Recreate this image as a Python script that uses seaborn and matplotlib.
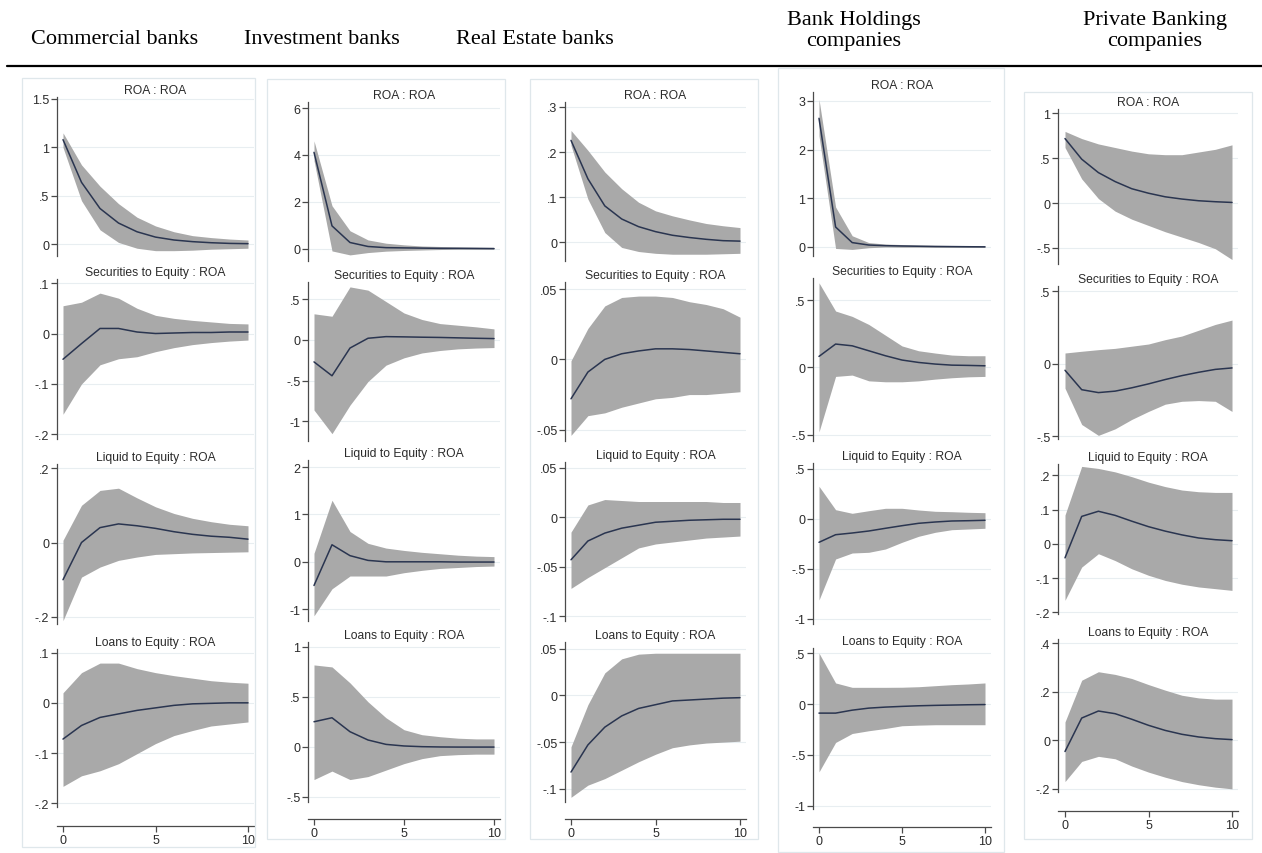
import matplotlib
matplotlib.use("Agg")
import matplotlib.pyplot as plt
from matplotlib.patches import Rectangle
from matplotlib.lines import Line2D
import seaborn as sns

sns.set_theme(style="white")
plt.rcParams["font.family"] = ["Liberation Sans", "DejaVu Sans"]
plt.rcParams["axes.unicode_minus"] = False

# ---------------------------------------------------------------- data
steps = list(range(11))

bank_types = ["Commercial banks", "Investment banks", "Real Estate banks",
              "Bank Holdings\ncompanies", "Private Banking\ncompanies"]
panel_titles = ["ROA : ROA", "Securities to Equity : ROA",
                "Liquid to Equity : ROA", "Loans to Equity : ROA"]

# Commercial banks
comm_roa_irf = [1.08, 0.64, 0.37, 0.22, 0.13, 0.075, 0.045, 0.028, 0.017, 0.01, 0.007]
comm_roa_lo = [1.0, 0.45, 0.15, 0.02, -0.04, -0.065, -0.065, -0.06, -0.05, -0.045, -0.04]
comm_roa_hi = [1.15, 0.82, 0.6, 0.42, 0.28, 0.19, 0.13, 0.09, 0.07, 0.055, 0.045]
comm_sec_irf = [-0.051, -0.02, 0.01, 0.01, 0.003, 0.0, 0.001, 0.002, 0.002, 0.003, 0.003]
comm_sec_lo = [-0.16, -0.1, -0.062, -0.05, -0.046, -0.036, -0.028, -0.022, -0.018, -0.015, -0.013]
comm_sec_hi = [0.055, 0.062, 0.08, 0.07, 0.05, 0.036, 0.03, 0.026, 0.023, 0.02, 0.019]
comm_liq_irf = [-0.1, 0.0, 0.04, 0.05, 0.045, 0.038, 0.029, 0.022, 0.017, 0.014, 0.009]
comm_liq_lo = [-0.21, -0.093, -0.066, -0.048, -0.039, -0.032, -0.03, -0.028, -0.027, -0.026, -0.025]
comm_liq_hi = [0.006, 0.1, 0.14, 0.146, 0.12, 0.096, 0.078, 0.065, 0.056, 0.049, 0.045]
comm_loan_irf = [-0.072, -0.045, -0.029, -0.022, -0.015, -0.01, -0.005, -0.002, -0.001, 0.0, 0.0]
comm_loan_lo = [-0.166, -0.145, -0.135, -0.121, -0.101, -0.081, -0.065, -0.055, -0.046, -0.042, -0.038]
comm_loan_hi = [0.02, 0.06, 0.079, 0.079, 0.068, 0.06, 0.054, 0.049, 0.044, 0.041, 0.039]

# Investment banks
inv_roa_irf = [4.11, 0.97, 0.26, 0.09, 0.04, 0.03, 0.02, 0.01, 0.01, 0.005, 0.0]
inv_roa_lo = [3.76, -0.1, -0.27, -0.17, -0.11, -0.08, -0.06, -0.04, -0.03, -0.03, -0.03]
inv_roa_hi = [4.6, 1.83, 0.76, 0.37, 0.23, 0.16, 0.11, 0.09, 0.07, 0.06, 0.05]
inv_sec_irf = [-0.27, -0.44, -0.1, 0.02, 0.04, 0.037, 0.033, 0.03, 0.025, 0.02, 0.016]
inv_sec_lo = [-0.86, -1.15, -0.8, -0.51, -0.31, -0.22, -0.16, -0.13, -0.11, -0.1, -0.094]
inv_sec_hi = [0.32, 0.29, 0.65, 0.61, 0.47, 0.33, 0.25, 0.2, 0.18, 0.16, 0.135]
inv_liq_irf = [-0.5, 0.36, 0.13, 0.03, 0.0, 0.0, 0.0, 0.0, -0.005, -0.005, -0.005]
inv_liq_lo = [-1.14, -0.57, -0.3, -0.3, -0.3, -0.23, -0.18, -0.14, -0.12, -0.1, -0.09]
inv_liq_hi = [0.18, 1.3, 0.64, 0.39, 0.29, 0.24, 0.2, 0.17, 0.14, 0.12, 0.11]
inv_loan_irf = [0.25, 0.29, 0.15, 0.067, 0.023, 0.007, 0.0, -0.003, -0.004, -0.004, -0.004]
inv_loan_lo = [-0.33, -0.245, -0.33, -0.3, -0.235, -0.17, -0.12, -0.09, -0.08, -0.075, -0.075]
inv_loan_hi = [0.82, 0.8, 0.64, 0.45, 0.29, 0.17, 0.12, 0.1, 0.085, 0.078, 0.078]

# Real Estate banks
re_roa_irf = [0.226, 0.141, 0.081, 0.052, 0.035, 0.024, 0.016, 0.011, 0.007, 0.004, 0.003]
re_roa_lo = [0.215, 0.096, 0.022, -0.011, -0.02, -0.024, -0.026, -0.026, -0.026, -0.025, -0.024]
re_roa_hi = [0.248, 0.204, 0.156, 0.119, 0.089, 0.07, 0.059, 0.05, 0.042, 0.037, 0.033]
re_sec_irf = [-0.028, -0.009, 0.0, 0.004, 0.006, 0.0075, 0.0075, 0.007, 0.006, 0.005, 0.004]
re_sec_lo = [-0.054, -0.04, -0.038, -0.034, -0.031, -0.028, -0.027, -0.025, -0.025, -0.024, -0.023]
re_sec_hi = [-0.001, 0.022, 0.038, 0.044, 0.045, 0.045, 0.044, 0.041, 0.039, 0.036, 0.03]
re_liq_irf = [-0.043, -0.024, -0.016, -0.011, -0.008, -0.005, -0.004, -0.003, -0.0025, -0.002, -0.002]
re_liq_lo = [-0.072, -0.061, -0.051, -0.041, -0.031, -0.027, -0.025, -0.023, -0.021, -0.02, -0.019]
re_liq_hi = [-0.015, 0.0125, 0.018, 0.017, 0.016, 0.016, 0.016, 0.016, 0.016, 0.015, 0.015]
re_loan_irf = [-0.082, -0.053, -0.034, -0.022, -0.014, -0.01, -0.006, -0.005, -0.004, -0.003, -0.0025]
re_loan_lo = [-0.109, -0.096, -0.089, -0.08, -0.071, -0.063, -0.056, -0.053, -0.051, -0.05, -0.049]
re_loan_hi = [-0.055, -0.01, 0.024, 0.039, 0.044, 0.045, 0.045, 0.045, 0.045, 0.045, 0.045]

# Bank Holdings companies
bh_roa_irf = [2.64, 0.41, 0.09, 0.04, 0.027, 0.02, 0.015, 0.01, 0.008, 0.005, 0.003]
bh_roa_lo = [2.28, -0.03, -0.05, -0.015, 0.0, -0.005, -0.005, -0.008, -0.01, -0.01, -0.01]
bh_roa_hi = [3.03, 0.82, 0.23, 0.09, 0.06, 0.05, 0.04, 0.035, 0.03, 0.02, 0.02]
bh_sec_irf = [0.082, 0.174, 0.161, 0.124, 0.087, 0.055, 0.037, 0.025, 0.017, 0.015, 0.012]
bh_sec_lo = [-0.48, -0.067, -0.057, -0.1, -0.107, -0.107, -0.1, -0.087, -0.077, -0.07, -0.067]
bh_sec_hi = [0.63, 0.42, 0.38, 0.32, 0.24, 0.16, 0.124, 0.107, 0.092, 0.087, 0.087]
bh_liq_irf = [-0.233, -0.157, -0.14, -0.12, -0.093, -0.067, -0.043, -0.03, -0.02, -0.017, -0.013]
bh_liq_lo = [-0.81, -0.4, -0.34, -0.333, -0.3, -0.233, -0.173, -0.133, -0.107, -0.1, -0.093]
bh_liq_hi = [0.327, 0.093, 0.057, 0.083, 0.107, 0.107, 0.09, 0.077, 0.073, 0.067, 0.063]
bh_loan_irf = [-0.089, -0.089, -0.06, -0.04, -0.03, -0.023, -0.017, -0.013, -0.01, -0.007, -0.005]
bh_loan_lo = [-0.666, -0.377, -0.289, -0.262, -0.24, -0.213, -0.207, -0.203, -0.203, -0.203, -0.203]
bh_loan_hi = [0.5, 0.207, 0.164, 0.164, 0.164, 0.165, 0.17, 0.18, 0.19, 0.197, 0.207]

# Private Banking companies
pb_roa_irf = [0.72, 0.49, 0.34, 0.24, 0.16, 0.11, 0.07, 0.045, 0.026, 0.015, 0.007]
pb_roa_lo = [0.62, 0.27, 0.05, -0.09, -0.18, -0.25, -0.32, -0.38, -0.44, -0.51, -0.63]
pb_roa_hi = [0.8, 0.72, 0.66, 0.62, 0.58, 0.55, 0.54, 0.54, 0.57, 0.6, 0.65]
pb_sec_irf = [-0.046, -0.18, -0.2, -0.19, -0.167, -0.14, -0.11, -0.083, -0.06, -0.04, -0.03]
pb_sec_lo = [-0.17, -0.42, -0.495, -0.45, -0.385, -0.33, -0.28, -0.26, -0.255, -0.26, -0.33]
pb_sec_hi = [0.073, 0.085, 0.096, 0.105, 0.12, 0.135, 0.165, 0.19, 0.23, 0.27, 0.3]
pb_liq_irf = [-0.041, 0.08, 0.095, 0.083, 0.066, 0.05, 0.037, 0.026, 0.017, 0.012, 0.009]
pb_liq_lo = [-0.165, -0.068, -0.029, -0.049, -0.073, -0.092, -0.107, -0.118, -0.126, -0.131, -0.136]
pb_liq_hi = [0.084, 0.226, 0.22, 0.21, 0.196, 0.18, 0.167, 0.157, 0.152, 0.15, 0.15]
pb_loan_irf = [-0.046, 0.092, 0.121, 0.11, 0.087, 0.062, 0.041, 0.025, 0.014, 0.007, 0.003]
pb_loan_lo = [-0.17, -0.087, -0.066, -0.076, -0.106, -0.131, -0.152, -0.17, -0.183, -0.193, -0.2]
pb_loan_hi = [0.076, 0.248, 0.283, 0.272, 0.255, 0.23, 0.207, 0.186, 0.175, 0.17, 0.17]

# y tick values per panel
comm_ticks = [[0, 0.5, 1, 1.5], [-0.2, -0.1, 0, 0.1], [-0.2, 0, 0.2], [-0.2, -0.1, 0, 0.1]]
inv_ticks = [[0, 2, 4, 6], [-1, -0.5, 0, 0.5], [-1, 0, 1, 2], [-0.5, 0, 0.5, 1]]
re_ticks = [[0, 0.1, 0.2, 0.3], [-0.05, 0, 0.05], [-0.1, -0.05, 0, 0.05], [-0.1, -0.05, 0, 0.05]]
bh_ticks = [[0, 1, 2, 3], [-0.5, 0, 0.5], [-1, -0.5, 0, 0.5], [-1, -0.5, 0, 0.5]]
pb_ticks = [[-0.5, 0, 0.5, 1], [-0.5, 0, 0.5], [-0.2, -0.1, 0, 0.1, 0.2], [-0.2, 0, 0.2, 0.4]]
x_ticks = [0, 5, 10]

columns = [
    [(comm_roa_irf, comm_roa_lo, comm_roa_hi), (comm_sec_irf, comm_sec_lo, comm_sec_hi),
     (comm_liq_irf, comm_liq_lo, comm_liq_hi), (comm_loan_irf, comm_loan_lo, comm_loan_hi)],
    [(inv_roa_irf, inv_roa_lo, inv_roa_hi), (inv_sec_irf, inv_sec_lo, inv_sec_hi),
     (inv_liq_irf, inv_liq_lo, inv_liq_hi), (inv_loan_irf, inv_loan_lo, inv_loan_hi)],
    [(re_roa_irf, re_roa_lo, re_roa_hi), (re_sec_irf, re_sec_lo, re_sec_hi),
     (re_liq_irf, re_liq_lo, re_liq_hi), (re_loan_irf, re_loan_lo, re_loan_hi)],
    [(bh_roa_irf, bh_roa_lo, bh_roa_hi), (bh_sec_irf, bh_sec_lo, bh_sec_hi),
     (bh_liq_irf, bh_liq_lo, bh_liq_hi), (bh_loan_irf, bh_loan_lo, bh_loan_hi)],
    [(pb_roa_irf, pb_roa_lo, pb_roa_hi), (pb_sec_irf, pb_sec_lo, pb_sec_hi),
     (pb_liq_irf, pb_liq_lo, pb_liq_hi), (pb_loan_irf, pb_loan_lo, pb_loan_hi)],
]
column_ticks = [comm_ticks, inv_ticks, re_ticks, bh_ticks, pb_ticks]

# ---------------------------------------------------------------- layout (pixels)
W, H = 1262, 854
# y-axis x, x=0 px, x=10 px, box (l, t, r, b), x-axis y, header (x, y)
col_layout = [
    dict(axis=57, x0=63, x10=248, box=(22, 79, 255, 848), xaxis=827, head=(115, 40)),
    dict(axis=308, x0=314, x10=494, box=(267, 80, 505, 840), xaxis=820, head=(322, 40)),
    dict(axis=565, x0=571, x10=740, box=(530, 80, 758, 840), xaxis=820, head=(535, 40)),
    dict(axis=813, x0=819, x10=985, box=(778, 69, 1004, 853), xaxis=828, head=(854, 31)),
    dict(axis=1058, x0=1065, x10=1232, box=(1024, 93, 1252, 840), xaxis=812, head=(1155, 31)),
]
# per panel: axes top px, bottom px, ylim
panel_layout = [
    [(98, 257, (-0.12, 1.52)), (280, 440, (-0.209, 0.108)),
     (465, 625, (-0.219, 0.211)), (650, 808, (-0.207, 0.107))],
    [(103, 262, (-0.53, 6.26)), (283, 442, (-1.24, 0.71)),
     (461, 622, (-1.25, 2.15)), (643, 803, (-0.555, 1.05))],
    [(103, 262, (-0.041, 0.311)), (283, 442, (-0.058, 0.055)),
     (463, 622, (-0.105, 0.056)), (643, 803, (-0.114, 0.057))],
    [(93, 257, (-0.185, 3.18)), (279, 442, (-0.548, 0.666)),
     (464, 625, (-1.05, 0.56)), (649, 810, (-1.03, 0.55))],
    [(110, 265, (-0.68, 1.05)), (287, 440, (-0.52, 0.535)),
     (465, 615, (-0.205, 0.233)), (640, 793, (-0.213, 0.418))],
]

FILL = "#a9a9a9"
LINE = "#2a3550"
AXIS = "#4a4a4a"
GRID = "#e8eef1"
TEXT = "#2b2b2b"


def stata_label(v):
    s = f"{v:g}"
    if s.startswith("0."):
        s = s[1:]
    elif s.startswith("-0."):
        s = "-" + s[2:]
    return s


fig = plt.figure(figsize=(W / 100, H / 100), dpi=100)
fig.patch.set_facecolor("white")

# headers and rule
for name, lay in zip(bank_types, col_layout):
    hx, hy = lay["head"]
    fig.text(hx / W, 1 - hy / H, name, ha="center", va="center",
             fontsize=16, family=["Liberation Serif", "DejaVu Serif"],
             color="black", linespacing=1.1)
fig.add_artist(Line2D([7 / W, 1.0], [1 - 67 / H, 1 - 67 / H],
                      transform=fig.transFigure, color="black", lw=1.6))

for c, lay in enumerate(col_layout):
    l, t, r, b = lay["box"]
    fig.add_artist(Rectangle((l / W, 1 - b / H), (r - l) / W, (b - t) / H,
                             transform=fig.transFigure, fill=False,
                             edgecolor="#dfe7eb", lw=0.9))
    upp = 10 / (lay["x10"] - lay["x0"])
    xmin = -(lay["x0"] - lay["axis"]) * upp
    right_px = lay["x10"] + 6
    xmax = 10 + 6 * upp
    for p in range(4):
        top, bot, ylim = panel_layout[c][p]
        irf, lo, hi = columns[c][p]
        ax = fig.add_axes([lay["axis"] / W, 1 - bot / H,
                           (right_px - lay["axis"]) / W, (bot - top) / H])
        ax.set_facecolor("white")
        ticks = column_ticks[c][p]
        for tv in ticks:
            ax.axhline(tv, color=GRID, lw=0.8, zorder=0)
        ax.fill_between(steps, lo, hi, color=FILL, lw=0, zorder=2)
        sns.lineplot(x=steps, y=irf, ax=ax, color=LINE, linewidth=1.1, zorder=3)
        ax.set_xlim(xmin, xmax)
        ax.set_ylim(*ylim)
        ax.set_yticks(ticks)
        ax.set_yticklabels([stata_label(v) for v in ticks])
        ax.tick_params(axis="y", direction="out", length=4, width=0.9,
                       color=AXIS, labelsize=9, labelcolor=TEXT, pad=1.5, left=True)
        for s in ["top", "right"]:
            ax.spines[s].set_visible(False)
        ax.spines["left"].set_color(AXIS)
        ax.spines["left"].set_linewidth(0.9)
        ax.set_xlabel("")
        ax.set_ylabel("")
        ax.set_title(panel_titles[p], fontsize=8.7, color=TEXT, pad=3)
        if p == 3:
            ax.set_xticks(x_ticks)
            ax.set_xticklabels([str(v) for v in x_ticks])
            ax.spines["bottom"].set_position(("outward", (lay["xaxis"] - bot) * 0.72))
            ax.spines["bottom"].set_color(AXIS)
            ax.spines["bottom"].set_linewidth(0.9)
            ax.tick_params(axis="x", direction="out", length=4, width=0.9,
                           color=AXIS, labelsize=9, labelcolor=TEXT, pad=1.5, bottom=True)
        else:
            ax.spines["bottom"].set_visible(False)
            ax.set_xticks([])

fig.savefig("out.png", dpi=100, facecolor="white")
